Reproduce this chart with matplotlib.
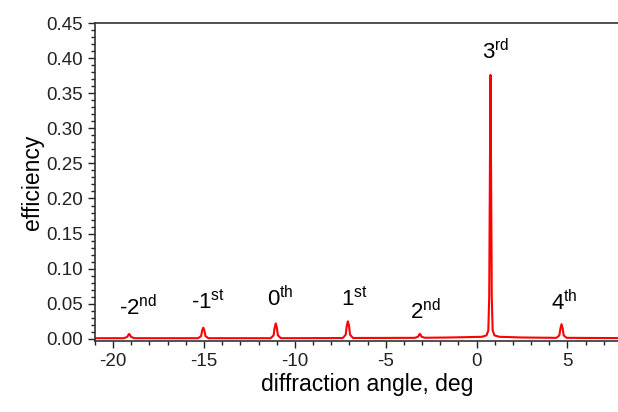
import matplotlib
matplotlib.use("Agg")
import matplotlib.pyplot as plt
from matplotlib.ticker import MultipleLocator

plt.rcParams['font.family'] = ['Liberation Sans', 'DejaVu Sans']
plt.rcParams['mathtext.fontset'] = 'custom'
plt.rcParams['mathtext.rm'] = 'Liberation Sans'
plt.rcParams['mathtext.it'] = 'Liberation Sans:italic'
plt.rcParams['axes.unicode_minus'] = False

# 곡선 점
angle = [-21.0,
         -19.40, -19.22, -19.16, -19.12, -19.08, -19.02, -18.84,
         -15.32, -15.16, -15.10, -15.04, -14.98, -14.92, -14.76,
         -11.33, -11.17, -11.11, -11.05, -10.99, -10.93, -10.77,
         -7.36, -7.20, -7.14, -7.08, -7.02, -6.96, -6.80,
         -3.40, -3.22, -3.16, -3.12, -3.08, -3.02, -2.84,
         -1.5, -0.5, 0.3, 0.55, 0.65, 0.70, 0.74, 0.77, 0.80, 0.84, 0.89, 0.99, 1.25, 2.5,
         4.40, 4.56, 4.62, 4.68, 4.74, 4.80, 4.96,
         9.0]
efficiency = [0.001,
              0.001, 0.003, 0.006, 0.007, 0.006, 0.003, 0.001,
              0.001, 0.004, 0.012, 0.016, 0.012, 0.004, 0.001,
              0.001, 0.005, 0.016, 0.022, 0.016, 0.005, 0.001,
              0.0012, 0.006, 0.019, 0.025, 0.019, 0.006, 0.0013,
              0.0015, 0.003, 0.006, 0.007, 0.006, 0.003, 0.0016,
              0.002, 0.0025, 0.003, 0.005, 0.012, 0.06, 0.25, 0.376, 0.25, 0.06, 0.012, 0.005, 0.003, 0.002,
              0.0015, 0.005, 0.015, 0.021, 0.015, 0.005, 0.0015,
              0.001]

# 회절 차수 라벨
order_labels = [r'-2$^{\mathrm{nd}}$', r'-1$^{\mathrm{st}}$', r'0$^{\mathrm{th}}$', r'1$^{\mathrm{st}}$',
                r'2$^{\mathrm{nd}}$', r'3$^{\mathrm{rd}}$', r'4$^{\mathrm{th}}$']
label_x = [-18.6, -14.8, -10.8, -6.7, -2.8, 1.05, 4.85]
label_y = [0.034, 0.043, 0.046, 0.047, 0.028, 0.399, 0.041]

fig = plt.figure(figsize=(6.18, 4.12), dpi=100)
ax = fig.add_axes([95 / 618, 1 - 341 / 412, (640 - 95) / 618, (341 - 23) / 412])

ax.plot(angle, efficiency, color='#ff0000', lw=1.5)

for txt, x, y in zip(order_labels, label_x, label_y):
    ax.text(x, y, txt, ha='center', va='baseline', fontsize=16)

ax.set_xlim(-21, 9)
ax.set_ylim(-0.003, 0.45)
ax.xaxis.set_major_locator(MultipleLocator(5))
ax.xaxis.set_minor_locator(MultipleLocator(1))
ax.yaxis.set_major_locator(MultipleLocator(0.05))
ax.yaxis.set_minor_locator(MultipleLocator(0.01))
ax.yaxis.set_major_formatter(plt.FormatStrFormatter('%.2f'))

ax.tick_params(which='both', direction='out', colors='#222222', labelsize=13.5, width=1.0)
ax.tick_params(which='major', length=5)
ax.tick_params(which='minor', length=3)
for s in ax.spines.values():
    s.set_color('#333333')
    s.set_linewidth(1.2)

ax.set_xlabel('diffraction angle, deg', fontsize=16.5, labelpad=2)
ax.set_ylabel('efficiency', fontsize=16.5, labelpad=2)

fig.savefig('out.png', dpi=100)
